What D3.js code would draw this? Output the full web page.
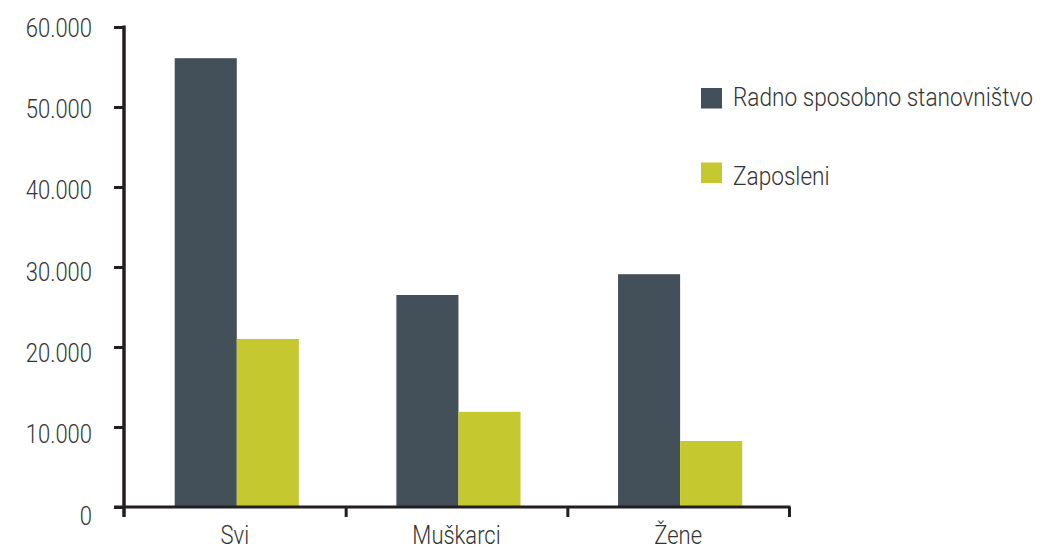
<!DOCTYPE html>
<html>
<head>
<meta charset="utf-8">
<script src="https://cdn.jsdelivr.net/npm/d3@7"></script>
<style>
  body { margin: 0; background: #fff; }
  text { font-family: Roboto, "Open Sans", sans-serif; font-weight: 300; fill: #333; }
</style>
</head>
<body>
<svg width="1043" height="547"></svg>
<script>
// chart data
var categories = ["Svi", "Muškarci", "Žene"];
var seriesNames = ["Radno sposobno stanovništvo", "Zaposleni"];
var radnoSposobno = [56100, 26500, 29100];
var zaposleni = [21000, 11900, 8250];
var yTicks = [0, 10000, 20000, 30000, 40000, 50000, 60000];
var yTickLabels = ["0", "10.000", "20.000", "30.000", "40.000", "50.000", "60.000"];

var colors = ["#434f59", "#c5c92f"];
var axisColor = "#231f20";
var squeeze = 0.88; // fonts here are wider than the condensed original

var svg = d3.select("svg");

// scales
var y = d3.scaleLinear().domain([0, 60000]).range([507, 27]);
// the labels drift a little from the ticks in the original
var yLabel = d3.scaleLinear().domain([0, 60000]).range([516, 28]);

var x0 = d3.scaleBand()
    .domain(categories)
    .range([124, 789])
    .paddingInner(0.44)
    .paddingOuter(0.22)
    .align(0.52);

var x1 = d3.scaleBand()
    .domain(seriesNames)
    .range([0, x0.bandwidth()]);

// axis (ticks only) scale for category boundaries
var xAxisScale = d3.scaleLinear().domain([0, categories.length]).range([124, 789]);

var rows = categories.map(function(c, i) {
  return { cat: c, values: [radnoSposobno[i], zaposleni[i]] };
});

// bars
var groups = svg.append("g").attr("class", "bars")
  .selectAll("g")
  .data(rows)
  .enter().append("g")
    .attr("transform", function(d) { return "translate(" + x0(d.cat) + ",0)"; });

groups.selectAll("rect")
  .data(function(d) { return d.values.map(function(v, i) { return { key: seriesNames[i], value: v, i: i }; }); })
  .enter().append("rect")
    .attr("x", function(d) { return x1(d.key); })
    .attr("width", x1.bandwidth())
    .attr("y", function(d) { return y(d.value); })
    .attr("height", function(d) { return y(0) - y(d.value); })
    .attr("fill", function(d) { return colors[d.i]; });

// y axis
var yAxis = svg.append("g")
    .attr("transform", "translate(124,0)")
    .call(d3.axisLeft(y).tickValues(yTicks).tickSize(10).tickSizeOuter(0).tickFormat(""));
yAxis.select(".domain").remove();
yAxis.selectAll("line").attr("stroke", axisColor).attr("stroke-width", 3);
yAxis.append("line")
    .attr("x1", 0).attr("x2", 0)
    .attr("y1", y(60000) - 1.5).attr("y2", y(0) + 10)
    .attr("stroke", axisColor).attr("stroke-width", 3.5);

svg.append("g").selectAll("g")
  .data(yTicks)
  .enter().append("g")
    .attr("transform", function(d) { return "translate(92," + yLabel(d) + ") scale(" + squeeze + ",1)"; })
  .append("text")
    .attr("text-anchor", "end")
    .attr("dy", "0.35em")
    .style("font-size", "25px")
    .text(function(d, i) { return yTickLabels[i]; });

// x axis
var xAxis = svg.append("g")
    .attr("transform", "translate(0," + y(0) + ")")
    .call(d3.axisBottom(xAxisScale).tickValues(d3.range(1, categories.length + 1)).tickSize(10).tickSizeOuter(0).tickFormat(""));
xAxis.select(".domain").remove();
xAxis.selectAll("line").attr("stroke", axisColor).attr("stroke-width", 3);
xAxis.append("line")
    .attr("x1", 114).attr("x2", 790.5)
    .attr("y1", 0).attr("y2", 0)
    .attr("stroke", axisColor).attr("stroke-width", 3);

svg.append("g").selectAll("g")
  .data(categories)
  .enter().append("g")
    .attr("transform", function(d, i) { return "translate(" + (xAxisScale(i) + xAxisScale(i + 1)) / 2 + ",544) scale(" + squeeze + ",1)"; })
  .append("text")
    .attr("text-anchor", "middle")
    .style("font-size", "25px")
    .text(function(d) { return d; });

// legend
var legend = svg.append("g")
    .attr("transform", "translate(701,88)");

var items = legend.selectAll("g")
  .data(seriesNames)
  .enter().append("g")
    .attr("transform", function(d, i) { return "translate(0," + i * 74.5 + ")"; });

items.append("rect")
    .attr("width", 21)
    .attr("height", 20.5)
    .attr("fill", function(d, i) { return colors[i]; });

items.append("g")
    .attr("transform", function(d, i) { return "translate(32," + (i ? 22.5 : 18) + ") scale(0.905,1)"; })
  .append("text")
    .style("font-size", "25px")
    .text(function(d) { return d; });
</script>
</body>
</html>
